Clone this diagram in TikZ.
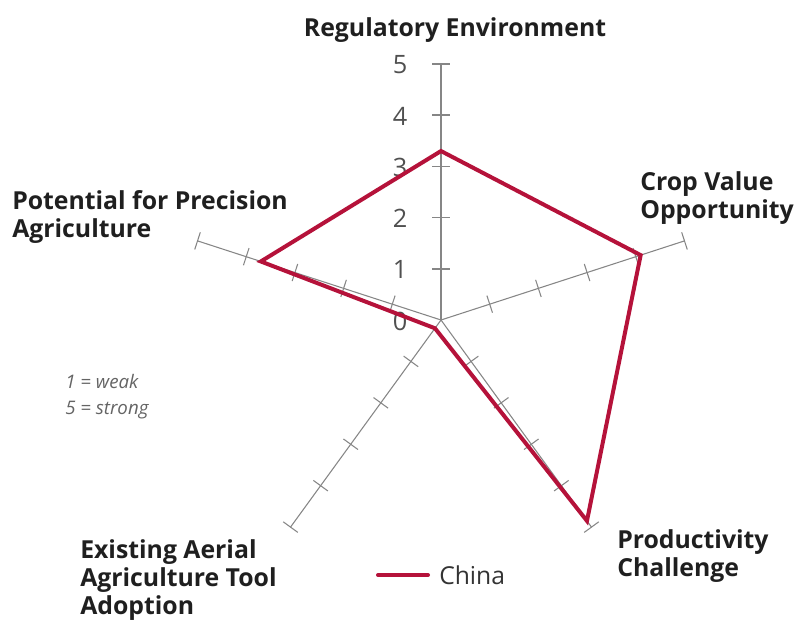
\documentclass[tikz,border=0pt]{standalone}
\usepackage{fontspec}
\setmainfont{Open Sans}
\usetikzlibrary{calc}
\definecolor{chinared}{RGB}{181,18,58}
\definecolor{axisgray}{RGB}{134,134,134}
\definecolor{numgray}{RGB}{80,80,80}
\definecolor{notegray}{RGB}{100,100,100}
\def\spoke[#1](#2:#3){\draw[#1] (c) -- ($(c)+(#2:5*#3)$);
	\foreach \k in {1,...,5}{\draw[#1] ($(c)+(#2:\k*#3)+(#2+90:9)$) -- ($(c)+(#2:\k*#3)+(#2-90:9)$);}}

\begin{document}
\begin{tikzpicture}[x=0.75pt,y=0.75pt,
	spokeline/.style={axisgray,line width=0.8pt},
	mainspoke/.style={axisgray,line width=1.3pt},
	catlabel/.style={anchor=west,align=left,inner sep=0pt,font=\fontsize{18.6}{20.8}\selectfont\bfseries,text=black!88},
	scalenum/.style={inner sep=0pt,font=\fontsize{19}{19}\selectfont,text=numgray}]
		%%%%% START %%%%%
		\useasboundingbox (0,0) rectangle (796,619);
		\coordinate (c) at (441,299);
		
		\spoke[mainspoke](90:51.2)
		\spoke[spokeline](18:51.2)
		\spoke[spokeline](-54:51.2)
		\spoke[spokeline](-126:51.2)
		\spoke[spokeline](162:51.2)
		
		\foreach \k in {0,...,5}{\node[scalenum] (num\k) at ($(c)+(-41,\k*51.2-1)$) {\k};}
		
		\coordinate (pReg) at ($(c)+(90:3.3*51.2)$);
		\coordinate (pCrop) at ($(c)+(18:4.1*51.2)$);
		\coordinate (pProd) at ($(c)+(-54:4.85*51.2)$);
		\coordinate (pAer) at ($(c)+(-126:0.2*51.2)$);
		\coordinate (pPrec) at ($(c)+(162:3.7*51.2)$);
		\draw[chinared,line width=3pt,line join=miter] (pReg) -- (pCrop) -- (pProd) -- (pAer) -- (pPrec) -- cycle;
		
		\node[catlabel,anchor=center] (reg) at (455,589) {Regulatory Environment};
		\node[catlabel] (crop) at (640,421) {Crop Value\\Opportunity};
		\node[catlabel] (prec) at (12,402) {Potential for Precision\\Agriculture};
		\node[catlabel] (prod) at (617,63) {Productivity\\Challenge};
		\node[catlabel] (aer) at (80,39) {Existing Aerial\\Agriculture Tool\\Adoption};
		
		\node[anchor=west,align=left,inner sep=0pt,text=notegray,font=\fontsize{14}{19.5}\selectfont\itshape] (note) at (65,222) {1 = weak\\5 = strong};
		
		\coordinate (legA) at (378,44);
		\coordinate (legB) at (428,44);
		\draw[chinared,line width=3pt,line cap=round] (legA) -- (legB);
		\node[anchor=west,inner sep=0pt,text=black!80,font=\fontsize{18.5}{18.5}\selectfont] (china) at (439,44) {China};
		%%%%% END %%%%%
\end{tikzpicture}
\end{document}
